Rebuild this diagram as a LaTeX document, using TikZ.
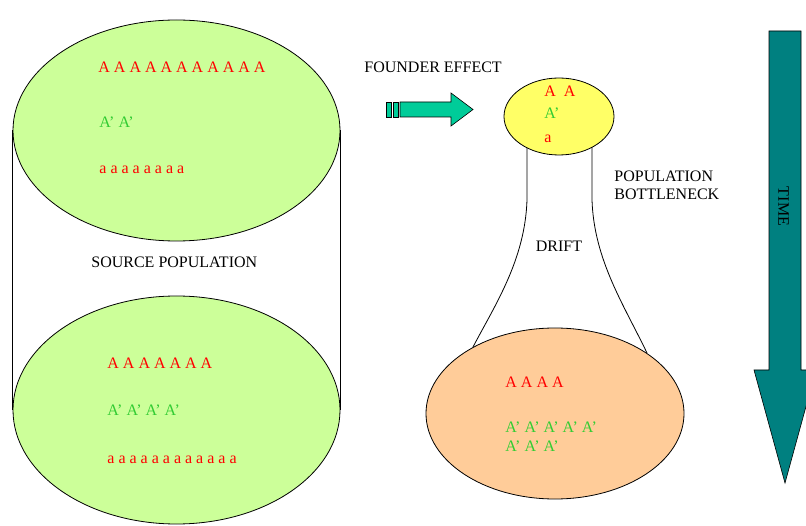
\documentclass[tikz,border=0pt]{standalone}
\usepackage{fontspec}
\setmainfont{Liberation Serif}
\usetikzlibrary{shapes.geometric}
\definecolor{leaf}{RGB}{204,255,153}
\definecolor{lemon}{RGB}{255,255,102}
\definecolor{peach}{RGB}{255,204,153}
\definecolor{allelered}{RGB}{255,0,0}
\definecolor{allelegreen}{RGB}{51,204,51}
\definecolor{founder}{RGB}{0,204,153}
\definecolor{timeteal}{RGB}{0,128,128}
\tikzstyle{pop} = [ellipse, draw, line width=0.8pt, inner sep=0pt]
\tikzstyle{txt} = [anchor=base west, inner sep=0pt, font=\fontsize{16}{19}\selectfont]
\tikzstyle{dom} = [txt, text=allelered]
\tikzstyle{mut} = [txt, text=allelegreen]

\begin{document}
\begin{tikzpicture}[x=1pt, y=-1pt, line width=0.8pt]
      \useasboundingbox (0,0) rectangle (806,526);
      \coordinate (neckL) at (527,147);
      \coordinate (neckR) at (592,147);
      \coordinate (baseL) at (473,347);
      \coordinate (baseR) at (647,353);
      \draw (neckL) -- (527,200) .. controls (525,260) and (495,305) .. (baseL);
      \draw (neckR) -- (592,200) .. controls (594,260) and (624,305) .. (baseR);
      \node [pop, fill=leaf, minimum width=327, minimum height=221] (srctop) at (176.5,130.5) {};
      \node [pop, fill=leaf, minimum width=327, minimum height=228] (srcbot) at (176.5,410) {};
      \draw (srctop.west) -- (srcbot.west);
      \draw (srctop.east) -- (srcbot.east);
      \node [pop, fill=lemon, minimum width=110, minimum height=77] (fnd) at (559,116.5) {};
      \node [pop, fill=peach, minimum width=258, minimum height=171] (drf) at (555,413.5) {};
      \node [dom] (srctopA) at (98,73) {A A A A A A A A A A A};
      \node [mut] (srctopB) at (99,128) {A' A'};
      \node [dom] (srctopC) at (99,174) {a a a a a a a a};
      \node [dom] (srcbotA) at (107,369) {A A A A A A A};
      \node [mut] (srcbotB) at (107,416) {A' A' A' A'};
      \node [dom] (srcbotC) at (107,463) {a a a a a a a a a a a a};
      \node [txt] (source) at (91,268) {SOURCE POPULATION};
      \node [dom] (fndA) at (544,97) {A~~A};
      \node [mut] (fndB) at (544,119) {A'};
      \node [dom] (fndC) at (544,143) {a};
      \node [dom] (drfA) at (505,388) {A A A A};
      \node [mut] (drfB) at (505,432) {A' A' A' A' A'};
      \node [mut] (drfC) at (505,451) {A' A' A'};
      \node [txt] (effect) at (364,73) {FOUNDER EFFECT};
      \node [txt] (neck1) at (614,182) {POPULATION};
      \node [txt] (neck2) at (614,200) {BOTTLENECK};
      \node [txt, anchor=base] (drift) at (559,252) {DRIFT};
      \fill [founder, draw=black, line width=0.6pt] (400,102) -- (451,102) -- (451,93) -- (473,109.5) -- (451,126) -- (451,117) -- (400,117) -- cycle;
      \fill [founder, draw=black, line width=0.6pt] (386,102) rectangle (391,117);
      \fill [founder, draw=black, line width=0.6pt] (393,102) rectangle (398,117);
      \fill [timeteal, draw=black, line width=0.6pt] (769,31) -- (801,31) -- (801,370) -- (816,370) -- (785,483) -- (754,370) -- (769,370) -- cycle;
      \node [txt, anchor=center, rotate=-90] (time) at (783.5,206.5) {TIME};
    \end{tikzpicture}
\end{document}
